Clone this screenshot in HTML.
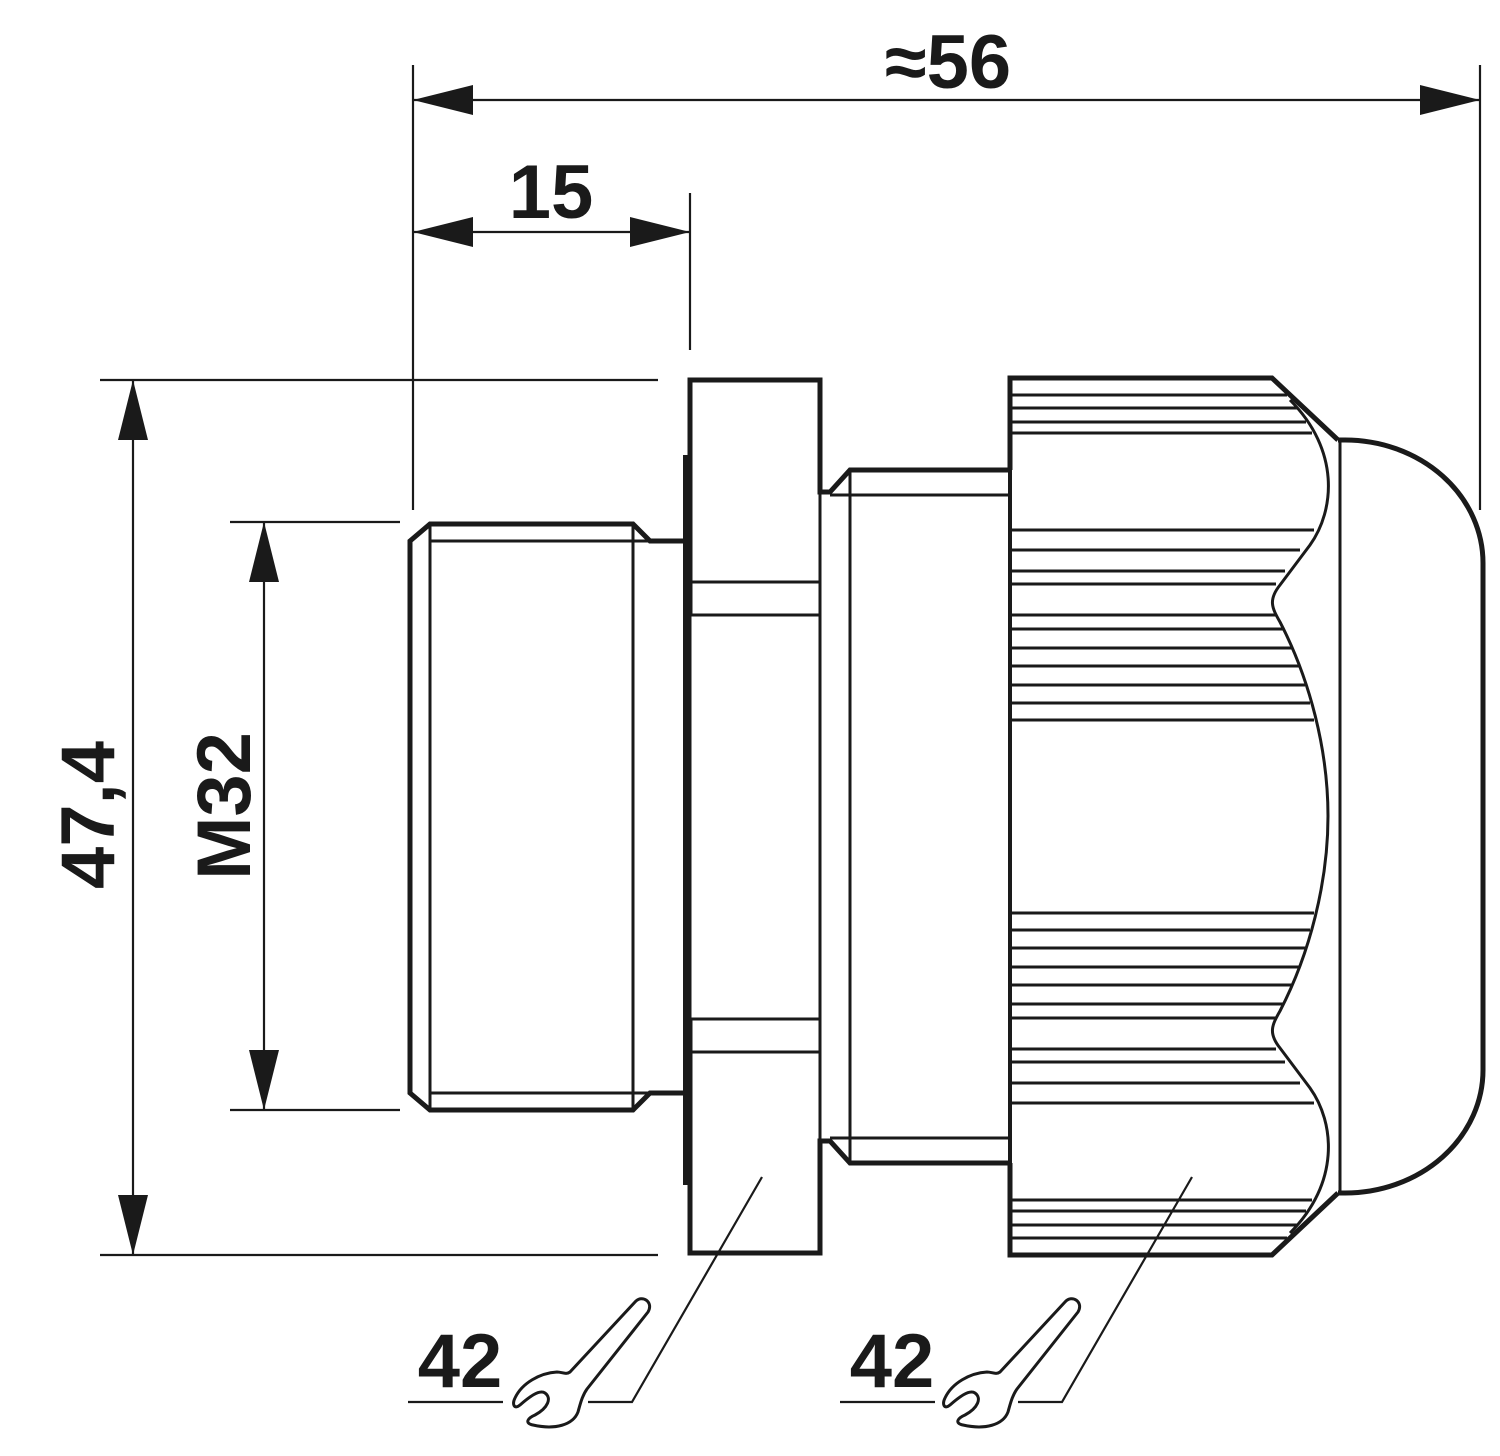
<!DOCTYPE html>
<html><head><meta charset="utf-8"><style>
html,body{margin:0;padding:0;background:#fff;}
svg{display:block;}
text{font-family:"Liberation Sans",sans-serif;font-weight:bold;fill:#1a1a1a;}
</style></head><body>
<svg width="1500" height="1456" viewBox="0 0 1500 1456" xmlns="http://www.w3.org/2000/svg">
<g stroke="#1a1a1a" fill="none" stroke-linecap="butt" stroke-linejoin="miter">
<!-- dimension lines -->
<g stroke-width="2.2">
<line x1="413" y1="65" x2="413" y2="510"/>
<line x1="1480" y1="65" x2="1480" y2="510"/>
<line x1="413" y1="100" x2="1480" y2="100"/>
<line x1="690" y1="193" x2="690" y2="350"/>
<line x1="413" y1="232" x2="690" y2="232"/>
<line x1="100" y1="380" x2="658" y2="380"/>
<line x1="100" y1="1255" x2="658" y2="1255"/>
<line x1="133" y1="380" x2="133" y2="1255"/>
<line x1="230" y1="522" x2="400" y2="522"/>
<line x1="230" y1="1110" x2="400" y2="1110"/>
<line x1="264" y1="522" x2="264" y2="1110"/>
<!-- leaders -->
<polyline points="762,1177 632,1402 588,1402"/>
<polyline points="1192,1177 1062,1402 1018,1402"/>
<line x1="408" y1="1402" x2="503" y2="1402"/>
<line x1="840" y1="1402" x2="935" y2="1402"/>
</g>
<!-- thread -->
<g stroke-width="5">
<polyline points="684,541 650,541 633,524 430,524 410,541 410,1093 430,1110 633,1110 650,1093 684,1093"/>
<!-- flange -->
<polyline points="690,615 690,380 820,380 820,492 830,492 850,470 1010,470"/>
<polyline points="690,1020 690,1253 820,1253 820,1141 830,1141 850,1163 1010,1163"/>
<line x1="686" y1="455" x2="686" y2="1185" stroke-width="6"/>
<!-- nut outline -->
<polyline points="1010,470 1010,378 1272,378 1338,440"/>
<polyline points="1010,1163 1010,1255 1272,1255 1338,1193"/>
<line x1="1010" y1="470" x2="1010" y2="1163" stroke-width="4"/>
<!-- dome -->
<path d="M1338,440 L1345,440 A138,123 0 0 1 1483,563 L1483,1070 A138,123 0 0 1 1345,1193 L1338,1193"/>
</g>
<g stroke-width="3">
<line x1="430" y1="541" x2="650" y2="541"/>
<line x1="430" y1="1093" x2="650" y2="1093"/>
<line x1="430" y1="524" x2="430" y2="1110"/>
<line x1="633" y1="524" x2="633" y2="1110"/>
<line x1="690" y1="615" x2="690" y2="1020"/>
<line x1="690" y1="582" x2="820" y2="582"/>
<line x1="690" y1="615" x2="820" y2="615"/>
<line x1="690" y1="1019" x2="820" y2="1019"/>
<line x1="690" y1="1052" x2="820" y2="1052"/>
<line x1="820" y1="492" x2="820" y2="1141"/>
<line x1="830" y1="495" x2="1010" y2="495"/>
<line x1="830" y1="1138" x2="1010" y2="1138"/>
<line x1="850" y1="470" x2="850" y2="1163"/>
<line x1="1340" y1="440" x2="1340" y2="1193"/>
<path d="M1290,400 C1340,450 1335,510 1310,545 L1280,585 C1268,600 1272,608 1280,622 C1310,680 1328,750 1328,816 C1328,882 1310,953 1280,1011 C1272,1025 1268,1033 1280,1048 L1310,1088 C1335,1123 1340,1183 1290,1233"/>
<!-- ridges top -->
<line x1="1010" y1="395" x2="1287" y2="395"/>
<line x1="1010" y1="408" x2="1297" y2="408"/>
<line x1="1010" y1="422" x2="1306" y2="422"/>
<line x1="1010" y1="433" x2="1312" y2="433"/>
<line x1="1010" y1="530" x2="1314" y2="530"/>
<line x1="1010" y1="550" x2="1300" y2="550"/>
<line x1="1010" y1="571" x2="1285" y2="571"/>
<line x1="1010" y1="584" x2="1276" y2="584"/>
<line x1="1010" y1="615" x2="1276" y2="615"/>
<line x1="1010" y1="629" x2="1284" y2="629"/>
<line x1="1010" y1="648" x2="1292" y2="648"/>
<line x1="1010" y1="666" x2="1299" y2="666"/>
<line x1="1010" y1="685" x2="1305" y2="685"/>
<line x1="1010" y1="703" x2="1310" y2="703"/>
<line x1="1010" y1="720" x2="1314" y2="720"/>
<!-- ridges bottom (mirror 1633-y) -->
<line x1="1010" y1="1238" x2="1287" y2="1238"/>
<line x1="1010" y1="1225" x2="1297" y2="1225"/>
<line x1="1010" y1="1211" x2="1306" y2="1211"/>
<line x1="1010" y1="1200" x2="1312" y2="1200"/>
<line x1="1010" y1="1103" x2="1314" y2="1103"/>
<line x1="1010" y1="1083" x2="1300" y2="1083"/>
<line x1="1010" y1="1062" x2="1285" y2="1062"/>
<line x1="1010" y1="1049" x2="1276" y2="1049"/>
<line x1="1010" y1="1018" x2="1276" y2="1018"/>
<line x1="1010" y1="1004" x2="1284" y2="1004"/>
<line x1="1010" y1="985" x2="1292" y2="985"/>
<line x1="1010" y1="967" x2="1299" y2="967"/>
<line x1="1010" y1="948" x2="1305" y2="948"/>
<line x1="1010" y1="930" x2="1310" y2="930"/>
<line x1="1010" y1="913" x2="1314" y2="913"/>
</g>
<!-- wrenches -->
<g id="w1" stroke-width="3" stroke-linejoin="round">
<path d="M570,1372 L635,1302 C642,1294 654,1302 648,1312 L587,1389 C582,1396 580,1405 578,1412 C573,1425 555,1430 533,1425 C524,1423 528,1418 535,1415 C548,1408 552,1398 545,1393 C539,1389 528,1398 520,1405 C514,1410 512,1404 515,1398 C522,1383 540,1373 557,1372 C562,1372 566,1375 570,1372 Z"/>
</g>
<path transform="translate(430,0)" stroke-width="3" stroke-linejoin="round" d="M570,1372 L635,1302 C642,1294 654,1302 648,1312 L587,1389 C582,1396 580,1405 578,1412 C573,1425 555,1430 533,1425 C524,1423 528,1418 535,1415 C548,1408 552,1398 545,1393 C539,1389 528,1398 520,1405 C514,1410 512,1404 515,1398 C522,1383 540,1373 557,1372 C562,1372 566,1375 570,1372 Z"/>
</g>
<!-- arrowheads -->
<g fill="#1a1a1a">
<polygon points="413,100 473,85 473,115"/>
<polygon points="1480,100 1420,85 1420,115"/>
<polygon points="413,232 473,217 473,247"/>
<polygon points="690,232 630,217 630,247"/>
<polygon points="133,380 118,440 148,440"/>
<polygon points="133,1255 118,1195 148,1195"/>
<polygon points="264,522 249,582 279,582"/>
<polygon points="264,1110 249,1050 279,1050"/>
</g>
<text x="948" y="88" font-size="76" text-anchor="middle">≈56</text>
<text x="551" y="218" font-size="76" text-anchor="middle">15</text>
<text transform="translate(114,815) rotate(-90)" font-size="76" text-anchor="middle">47,4</text>
<text transform="translate(250,806) rotate(-90)" font-size="76" text-anchor="middle">M32</text>
<text x="460" y="1387" font-size="76" text-anchor="middle">42</text>
<text x="892" y="1387" font-size="76" text-anchor="middle">42</text>
</svg>
</body></html>
